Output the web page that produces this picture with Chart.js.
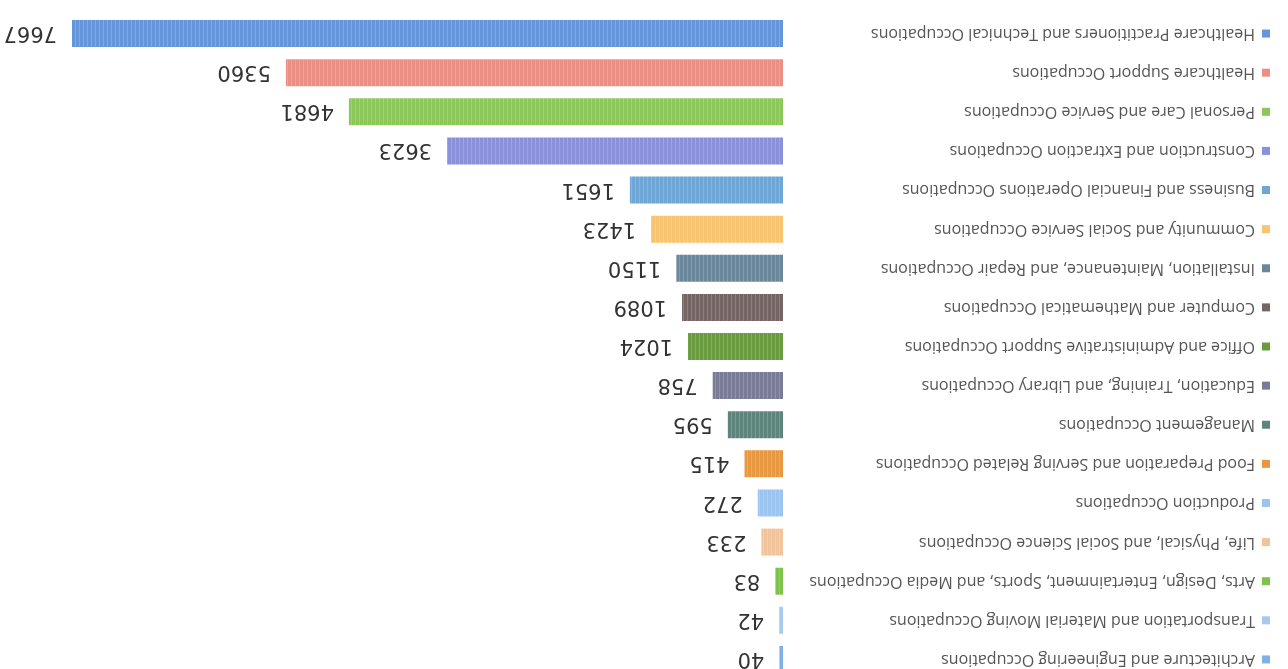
<!DOCTYPE html>
<html>
<head>
<meta charset="utf-8">
<script src="https://cdn.jsdelivr.net/npm/chart.js@4.4.0/dist/chart.umd.min.js"></script>
<style>
html,body{margin:0;padding:0;width:1288px;height:669px;overflow:hidden;background:#fff;}
#wrap{position:absolute;left:0;top:-11px;width:1288px;height:700px;transform:rotate(180deg);}
canvas{display:block;}
</style>
</head>
<body>
<div id="wrap"><canvas id="c" width="1288" height="700"></canvas></div>
<script>
const categories = [
  "Architecture and Engineering Occupations",
  "Transportation and Material Moving Occupations",
  "Arts, Design, Entertainment, Sports, and Media Occupations",
  "Life, Physical, and Social Science Occupations",
  "Production Occupations",
  "Food Preparation and Serving Related Occupations",
  "Management Occupations",
  "Education, Training, and Library Occupations",
  "Office and Administrative Support Occupations",
  "Computer and Mathematical Occupations",
  "Installation, Maintenance, and Repair Occupations",
  "Community and Social Service Occupations",
  "Business and Financial Operations Occupations",
  "Construction and Extraction Occupations",
  "Personal Care and Service Occupations",
  "Healthcare Support Occupations",
  "Healthcare Practitioners and Technical Occupations"
];
const values = [40, 42, 83, 233, 272, 415, 595, 758, 1024, 1089, 1150, 1423, 1651, 3623, 4681, 5360, 7667];
const colors = [
  "#7fb0e8", "#a9c8ee", "#7dc24a", "#f2c49c", "#9cc4f0", "#e8993f",
  "#5e857c", "#7a7c96", "#6a9c3f", "#766565", "#6b879c", "#f8c46f",
  "#6ea6d6", "#8a90da", "#8cc75a", "#eb8f84", "#6596dc"
];

function stripe(color) {
  const p = document.createElement('canvas');
  p.width = 4; p.height = 4;
  const g = p.getContext('2d');
  g.fillStyle = color; g.fillRect(0, 0, 4, 4);
  g.fillStyle = 'rgba(255,255,255,0.18)'; g.fillRect(0, 0, 1, 4);
  return g.createPattern(p, 'repeat');
}
const ctx0 = document.getElementById('c').getContext('2d');
const fills = colors.map(stripe);

const extras = {
  id: 'extras',
  afterDatasetsDraw(chart) {
    const ctx = chart.ctx;
    const meta = chart.getDatasetMeta(0);
    ctx.save();
    ctx.font = '21px "DejaVu Sans"';
    ctx.fillStyle = '#333333';
    ctx.textAlign = 'left';
    ctx.textBaseline = 'middle';
    meta.data.forEach((bar, i) => {
      ctx.fillText(String(values[i]), bar.x + 15, bar.y + 1);
    });
    const ys = chart.scales.y;
    categories.forEach((c, i) => {
      const y = ys.getPixelForValue(i);
      ctx.fillStyle = colors[i];
      ctx.fillRect(18, y - 4, 8, 8);
    });
    ctx.restore();
  }
};

new Chart(ctx0, {
  type: 'bar',
  data: {
    labels: categories,
    datasets: [{
      data: values,
      backgroundColor: fills,
      borderWidth: 0,
      categoryPercentage: 1.0,
      barPercentage: 0.69
    }]
  },
  options: {
    indexAxis: 'y',
    responsive: false,
    animation: false,
    layout: { padding: { left: 33, right: 72, top: 10, bottom: 25 } },
    plugins: { legend: { display: false }, tooltip: { enabled: false } },
    scales: {
      x: { display: false, min: 0, max: 7667, grid: { display: false } },
      y: {
        grid: { display: false, drawTicks: false },
        border: { display: false },
        ticks: {
          crossAlign: 'far',
          padding: 0,
          color: '#555555',
          font: { family: '"Open Sans"', size: 16 }
        },
        afterFit(scale) { scale.width = 505 - 33; }
      }
    }
  },
  plugins: [extras]
});
</script>
</body>
</html>
